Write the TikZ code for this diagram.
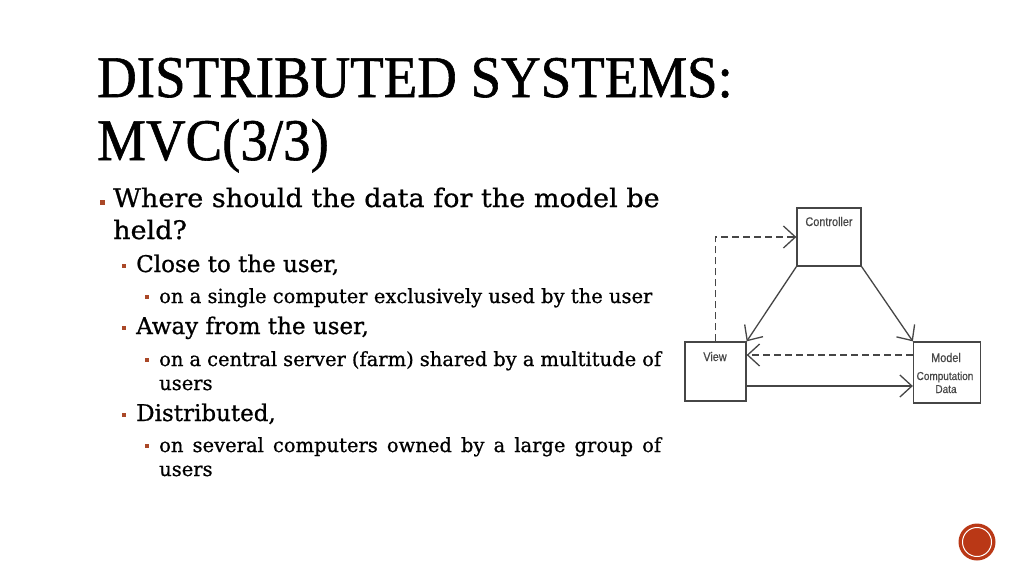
\documentclass[tikz,border=0pt]{standalone}
\usepackage{fontspec}
\setmainfont[FakeBold=0.8]{DejaVu Serif}
\newfontfamily\widefont[FakeBold=0.8,FakeStretch=1.06]{DejaVu Serif}
\newfontfamily\titlefont[FakeStretch=0.93,FakeBold=1.0]{Liberation Serif}
\newfontfamily\diagfont[FakeStretch=0.87,FakeBold=0.5]{Liberation Sans}
\usetikzlibrary{arrows.meta}
\definecolor{bulcol}{RGB}{170,72,40}
\definecolor{dotcol}{RGB}{186,56,22}
\definecolor{linecol}{RGB}{70,70,70}
\tikzset{
  titletext/.style={anchor=base west, inner sep=0pt, text=black, font=\titlefont\fontsize{59}{63}\selectfont},
  lvlone/.style={anchor=base west, inner sep=0pt, text=black, font=\widefont\fontsize{25.5}{28}\selectfont},
  lvltwo/.style={anchor=base west, inner sep=0pt, text=black, font=\fontsize{23}{26}\selectfont},
  lvlthree/.style={anchor=base west, inner sep=0pt, text=black, font=\fontsize{19.5}{22}\selectfont},
  bulone/.style={rectangle, fill=bulcol, inner sep=0pt, minimum size=5pt},
  bultwo/.style={rectangle, fill=bulcol, inner sep=0pt, minimum size=4pt},
  bulthree/.style={rectangle, fill=bulcol, inner sep=0pt, minimum size=3.5pt},
  mvcbox/.style={rectangle, draw=linecol, line width=1.3pt, inner sep=0pt},
  mvclabel/.style={anchor=base, inner sep=0pt, text=linecol, font=\diagfont\fontsize{12.5}{14}\selectfont},
  mvcarrow/.style={draw=linecol, line width=1.3pt, -{Straight Barb[length=12pt,width=22pt,line width=1.3pt]}},
  mvcdash/.style={mvcarrow, dash pattern=on 7pt off 4pt},
}
\begin{document}
\begin{tikzpicture}[x=1pt,y=-1pt]
\path[use as bounding box, fill=white] (0,0) rectangle (1024,576);

% title
\node[titletext] (t1) at (97,97) {DISTRIBUTED SYSTEMS:};
\node[titletext] (t2) at (97,160) {MVC(3/3)};

% bullets and text
\node[bulone] (b1) at (102,202.5) {};
\node[lvlone] (l1a) at (113,207) {Where should the data for the model be};
\node[lvlone] (l1b) at (113,239) {held?};

\node[bultwo] (b2) at (124,265.5) {};
\node[lvltwo] (l2a) at (136,272) {Close to the user,};
\node[bulthree] (b3) at (147,297) {};
\node[lvlthree] (l3a) at (159,303) {on a single computer exclusively used by the user};

\node[bultwo] (b4) at (124,327.5) {};
\node[lvltwo] (l2b) at (136,334) {Away from the user,};
\node[bulthree] (b5) at (147,360) {};
\node[lvlthree] (l3b) at (159,366) {\makebox[502pt][s]{on a central server (farm) shared by a multitude of}};
\node[lvlthree] (l3c) at (159,390) {users};

\node[bultwo] (b6) at (124,414.5) {};
\node[lvltwo] (l2c) at (136,421) {Distributed,};
\node[bulthree] (b7) at (147,446) {};
\node[lvlthree] (l3d) at (159,452) {\makebox[502pt][s]{on several computers owned by a large group of}};
\node[lvlthree] (l3e) at (159,476) {users};

% MVC diagram
\node[mvcbox, minimum width=64pt, minimum height=58pt] (ctrl) at (829,237) {};
\node[mvcbox, minimum width=61pt, minimum height=59pt] (view) at (715.5,371.5) {};
\node[mvcbox, minimum width=67pt, minimum height=61pt] (model) at (947,372.5) {};

\node[mvclabel] (ctrllab) at (829,226) {Controller};
\node[mvclabel] (viewlab) at (715,361) {View};
\node[mvclabel] (modellab) at (946,362) {Model};
\node[mvclabel, font=\diagfont\fontsize{11.5}{13}\selectfont] (complab) at (945,380) {Computation};
\node[mvclabel, font=\diagfont\fontsize{11.5}{13}\selectfont] (datalab) at (946,393) {Data};

\draw[mvcarrow] (ctrl.south west) -- (view.north east);
\draw[mvcarrow] (ctrl.south east) -- (model.north west);
\draw[mvcdash] (view.north) |- (ctrl.west);
\coordinate (mdash) at ([yshift=17.5pt]model.west);
\draw[mvcdash] (mdash) -- (mdash -| view.east);
\coordinate (vsol) at ([yshift=-14.5pt]view.east);
\draw[mvcarrow] (vsol) -- (vsol -| model.west);

% page badge
\node[circle, fill=dotcol, minimum size=37pt, inner sep=0pt] (badge) at (977,542) {};
\draw[white, line width=1pt] (badge.center) circle[radius=14.5pt];
\end{tikzpicture}
\end{document}
